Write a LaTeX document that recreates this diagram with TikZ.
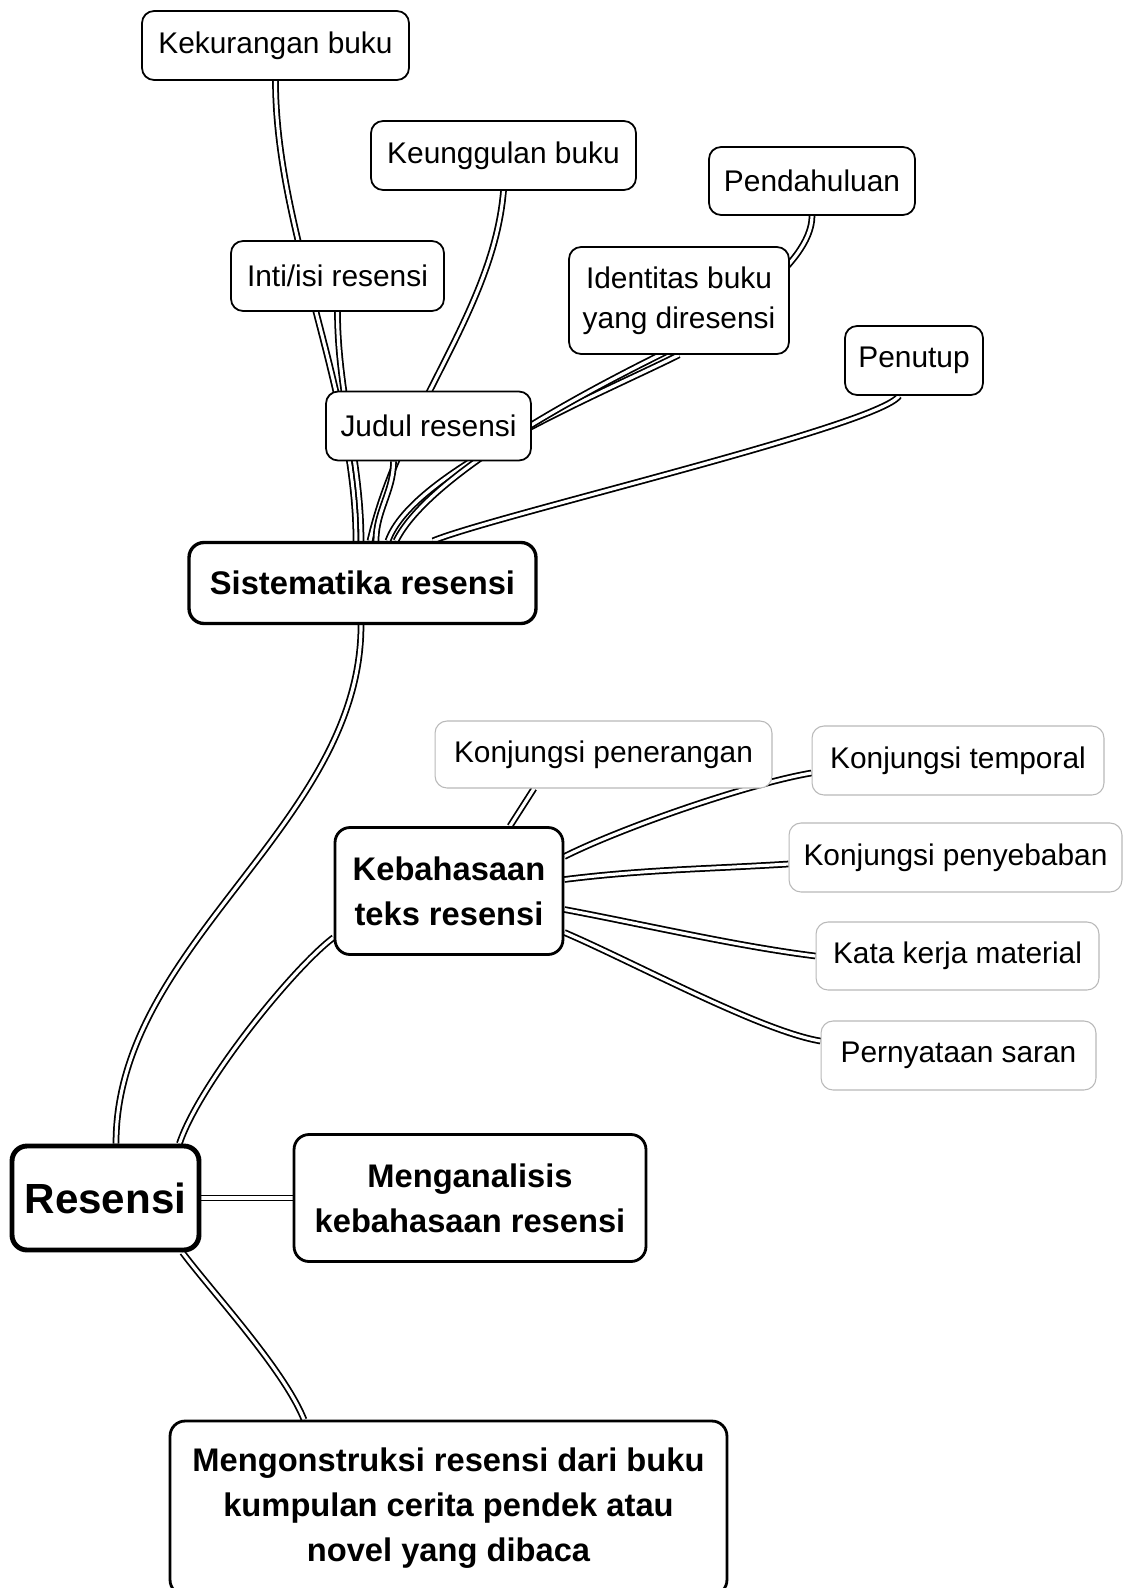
\documentclass[tikz,border=0pt]{standalone}
\usepackage{fontspec}
\setmainfont{Liberation Sans}
\usetikzlibrary{backgrounds}
\tikzset{
  leaf/.style={
    draw, rectangle, rounded corners=0.24cm, fill=white, line width=1pt,
    inner sep=0mm, align=center, font=\fontsize{17}{22.7}\selectfont
  },
  faint/.style={
    leaf, draw=gray!55, line width=0.6pt
  },
  topic/.style={
    draw, rectangle, rounded corners=0.3cm, fill=white, line width=1.6pt,
    inner sep=0mm, align=center, font=\bfseries\fontsize{18.6}{25.5}\selectfont
  },
  rootbox/.style={
    topic, line width=2.8pt, font=\bfseries\fontsize{24}{28}\selectfont
  },
  link/.style={
    draw, double, double distance=1.8pt, line width=1pt
  }
}

\begin{document}
\begin{tikzpicture}[x=0.02cm, y=-0.02cm]
   \useasboundingbox (0,0) rectangle (1126,1588);

   \node[leaf, minimum width=5.34cm, minimum height=1.38cm] (kek) at (275.5,45.5) {Kekurangan buku};
   \node[leaf, minimum width=5.3cm, minimum height=1.38cm] (keu) at (503.5,155.5) {Keunggulan buku};
   \node[leaf, minimum width=4.12cm, minimum height=1.36cm] (pend) at (812,181) {Pendahuluan};
   \node[leaf, minimum width=4.26cm, minimum height=1.4cm] (inti) at (337.5,276) {Inti/isi resensi};
   \node[leaf, minimum width=4.4cm, minimum height=2.14cm] (iden) at (679,300.5) {Identitas buku\\yang diresensi};
   \node[leaf, minimum width=2.76cm, minimum height=1.38cm] (penu) at (914,360.5) {Penutup};
   \node[leaf, minimum width=4.1cm, minimum height=1.38cm] (judul) at (428.5,426) {Judul resensi};
   \node[topic, line width=1.9pt, minimum width=6.94cm, minimum height=1.62cm] (sist) at (362.5,583) {Sistematika resensi};

   \node[faint, minimum width=6.74cm, minimum height=1.34cm] (kpen) at (603.5,754.5) {Konjungsi penerangan};
   \node[faint, minimum width=5.84cm, minimum height=1.38cm] (ktem) at (958,760.5) {Konjungsi temporal};
   \node[faint, minimum width=6.66cm, minimum height=1.38cm] (kpyb) at (955.5,857.5) {Konjungsi penyebaban};
   \node[faint, minimum width=5.66cm, minimum height=1.36cm] (kkm) at (957.5,956) {Kata kerja material};
   \node[faint, minimum width=5.5cm, minimum height=1.38cm] (psar) at (958.5,1055.5) {Pernyataan saran};
   \node[topic, minimum width=4.56cm, minimum height=2.54cm] (keba) at (449,891) {Kebahasaan\\teks resensi};

   \node[rootbox, minimum width=3.74cm, minimum height=2.08cm] (res) at (105.5,1198) {Resensi};
   \node[topic, minimum width=7.04cm, minimum height=2.54cm] (mena) at (470,1198) {Menganalisis\\kebahasaan resensi};
   \node[topic, minimum width=11.14cm, minimum height=3.48cm] (meng) at (448.5,1508) {Mengonstruksi resensi dari buku\\kumpulan cerita pendek atau\\novel yang dibaca};

   \begin{pgfonlayer}{background}
   \fill[white] (0,0) rectangle (1126,1588);
   % sistematika
   \draw[link] (kek.south) .. controls +(0,150) and +(0,-150) .. ([xshift=-0.13cm]sist.north);
   \draw[link] (inti.south) .. controls +(0,80) and +(0,-80) .. ([xshift=-0.03cm]sist.north);
   \draw[link] (keu.south) .. controls +(-10,120) and +(30,-130) .. ([xshift=0.15cm]sist.north);
   \draw[link] ([xshift=-0.7cm]judul.south) .. controls +(0,30) and +(0,-30) .. ([xshift=0.27cm]sist.north);
   \draw[link] (iden.south) .. controls +(-80,40) and +(25,-70) .. ([xshift=0.51cm]sist.north);
   \draw[link] (pend.south) .. controls +(0,50) and +(60,-30) .. ([xshift=-0.38cm]iden.south)
      .. controls +(-60,30) and +(35,-70) .. ([xshift=0.67cm]sist.north);
   \draw[link] ([xshift=-0.3cm]penu.south) .. controls +(-20,30) and +(60,-25) .. ([xshift=1.41cm]sist.north);
   % kebahasaan
   \draw[link] ([xshift=1.22cm]keba.north) -- ([xshift=-1.39cm]kpen.south);
   \draw[link] ([yshift=0.69cm]keba.east) .. controls +(60,-30) and +(-60,10) .. ([yshift=-0.25cm]ktem.west);
   \draw[link] ([yshift=0.23cm]keba.east) .. controls +(80,-10) and +(-80,5) .. ([yshift=-0.13cm]kpyb.west);
   \draw[link] ([yshift=-0.37cm]keba.east) .. controls +(80,15) and +(-80,-10) .. (kkm.west);
   \draw[link] ([yshift=-0.83cm]keba.east) .. controls +(70,30) and +(-60,-10) .. ([yshift=0.29cm]psar.west);
   % resensi
   \draw[link] ([xshift=-0.03cm]sist.south) .. controls +(0,200) and +(0,-200) .. ([xshift=0.21cm]res.north);
   \draw[link] ([yshift=-0.93cm]keba.west) .. controls +(-40,30) and +(20,-60) .. ([xshift=-0.44cm]res.north east);
   \draw[link] (res.east) -- (mena.west);
   \draw[link] ([xshift=-0.38cm]res.south east) .. controls +(30,40) and +(-20,-50) .. ([xshift=-2.89cm]meng.north);
   \end{pgfonlayer}
\end{tikzpicture}
\end{document}
